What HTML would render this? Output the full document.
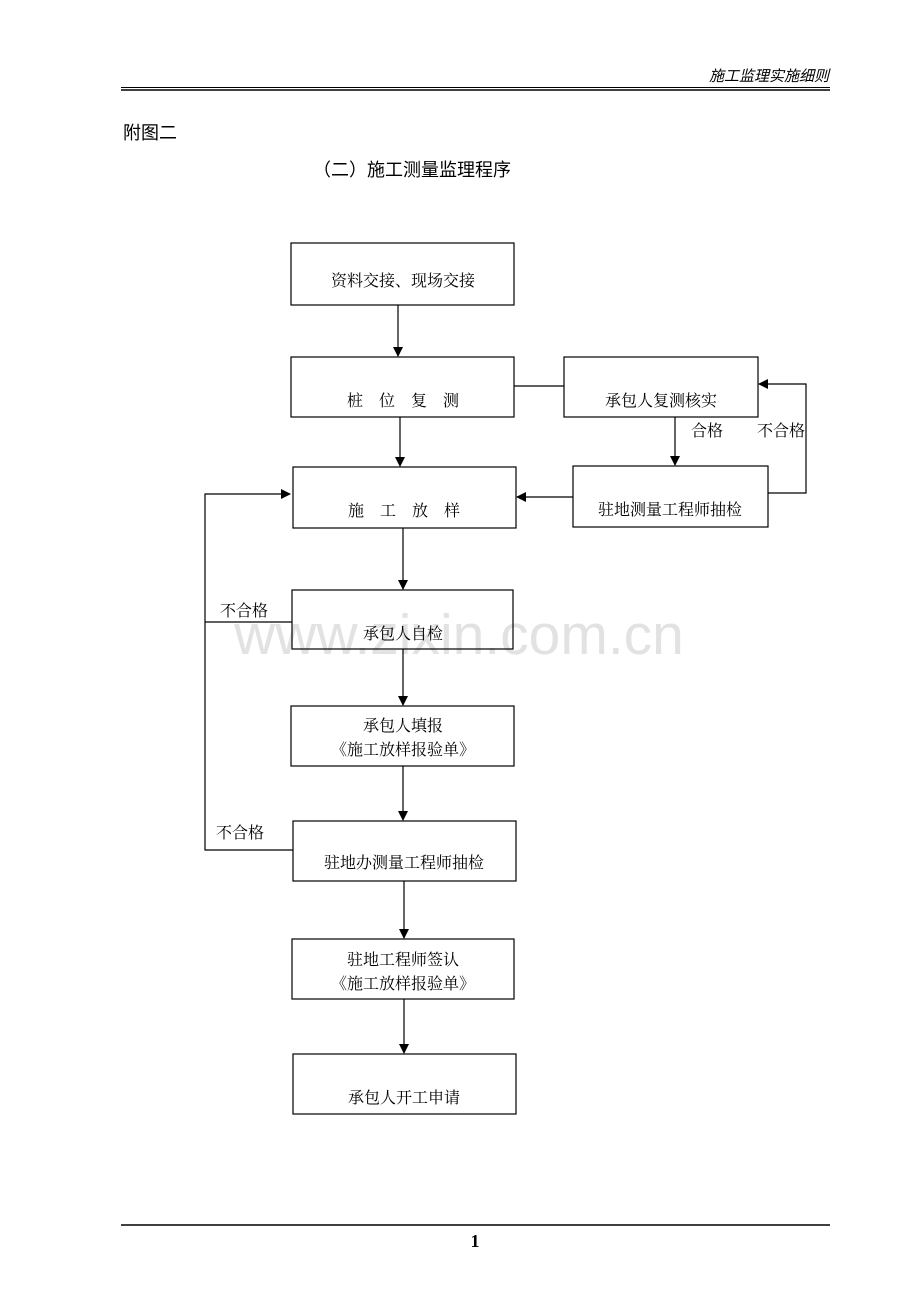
<!DOCTYPE html>
<html><head><meta charset="utf-8"><style>
html,body{margin:0;padding:0;background:#fff;}
svg{display:block;font-family:"Liberation Serif","Noto Serif CJK SC","Noto Sans CJK SC",serif;}
</style></head><body>
<svg width="920" height="1302" viewBox="0 0 920 1302" xmlns="http://www.w3.org/2000/svg">
<defs><marker id="a" markerWidth="10" markerHeight="10" refX="9" refY="5" orient="auto" markerUnits="userSpaceOnUse"><path d="M0,0 L10,5 L0,10 z" fill="#000"/></marker></defs>
<text x="829" y="81" text-anchor="end" font-size="15" font-style="italic" font-family="Noto Sans CJK SC,sans-serif">施工监理实施细则</text>
<line x1="121" y1="87.5" x2="830" y2="87.5" stroke="#000" stroke-width="1"/>
<line x1="121" y1="90" x2="830" y2="90" stroke="#000" stroke-width="1.5"/>
<text x="123" y="139" font-size="18" font-family="Noto Sans CJK SC,sans-serif">附图二</text>
<text x="313" y="176" font-size="18" font-family="Noto Sans CJK SC,sans-serif">（二）施工测量监理程序</text>
<text x="459" y="654" text-anchor="middle" font-size="57" fill="#e2e2e2" font-family="Liberation Sans,sans-serif">www.zixin.com.cn</text>
<g fill="none" stroke="#000" stroke-width="1.2">
<rect x="291" y="243" width="223" height="62"/>
<rect x="291" y="357" width="223" height="60"/>
<rect x="564" y="357" width="194" height="60"/>
<rect x="293" y="467" width="223" height="61"/>
<rect x="573" y="466" width="195" height="61"/>
<rect x="292" y="590" width="221" height="59"/>
<rect x="291" y="706" width="223" height="60"/>
<rect x="293" y="821" width="223" height="60"/>
<rect x="292" y="939" width="222" height="60"/>
<rect x="293" y="1054" width="223" height="60"/>
<line x1="398" y1="305" x2="398" y2="356" marker-end="url(#a)"/>
<line x1="400" y1="417" x2="400" y2="466" marker-end="url(#a)"/>
<line x1="675" y1="417" x2="675" y2="465" marker-end="url(#a)"/>
<line x1="573" y1="497" x2="517" y2="497" marker-end="url(#a)"/>
<polyline points="768,493 806,493 806,384 759,384" marker-end="url(#a)"/>
<line x1="514" y1="386" x2="564" y2="386"/>
<line x1="403" y1="528" x2="403" y2="589" marker-end="url(#a)"/>
<line x1="403" y1="649" x2="403" y2="705" marker-end="url(#a)"/>
<line x1="403" y1="766" x2="403" y2="820" marker-end="url(#a)"/>
<line x1="404" y1="881" x2="404" y2="938" marker-end="url(#a)"/>
<line x1="404" y1="999" x2="404" y2="1053" marker-end="url(#a)"/>
<polyline points="293,850 205,850 205,494 290,494" marker-end="url(#a)"/>
<line x1="205" y1="622" x2="292" y2="622"/>
<line x1="121" y1="1225" x2="830" y2="1225" stroke-width="1.5"/>
</g>
<g font-size="16" text-anchor="middle">
<text x="403" y="286">资料交接、现场交接</text>
<text x="403" y="406" xml:space="preserve">桩　位　复　测</text>
<text x="661" y="406">承包人复测核实</text>
<text x="404" y="516" xml:space="preserve">施　工　放　样</text>
<text x="670" y="515">驻地测量工程师抽检</text>
<text x="403" y="639">承包人自检</text>
<text x="403" y="731">承包人填报</text>
<text x="403" y="755">《施工放样报验单》</text>
<text x="404" y="868">驻地办测量工程师抽检</text>
<text x="403" y="965">驻地工程师签认</text>
<text x="403" y="989">《施工放样报验单》</text>
<text x="404" y="1103">承包人开工申请</text>
<text x="707" y="436">合格</text>
<text x="781" y="436">不合格</text>
<text x="244" y="616">不合格</text>
<text x="240" y="838">不合格</text>
</g>
<text x="475" y="1247" text-anchor="middle" font-size="18" font-weight="bold">1</text>
</svg>
</body></html>
